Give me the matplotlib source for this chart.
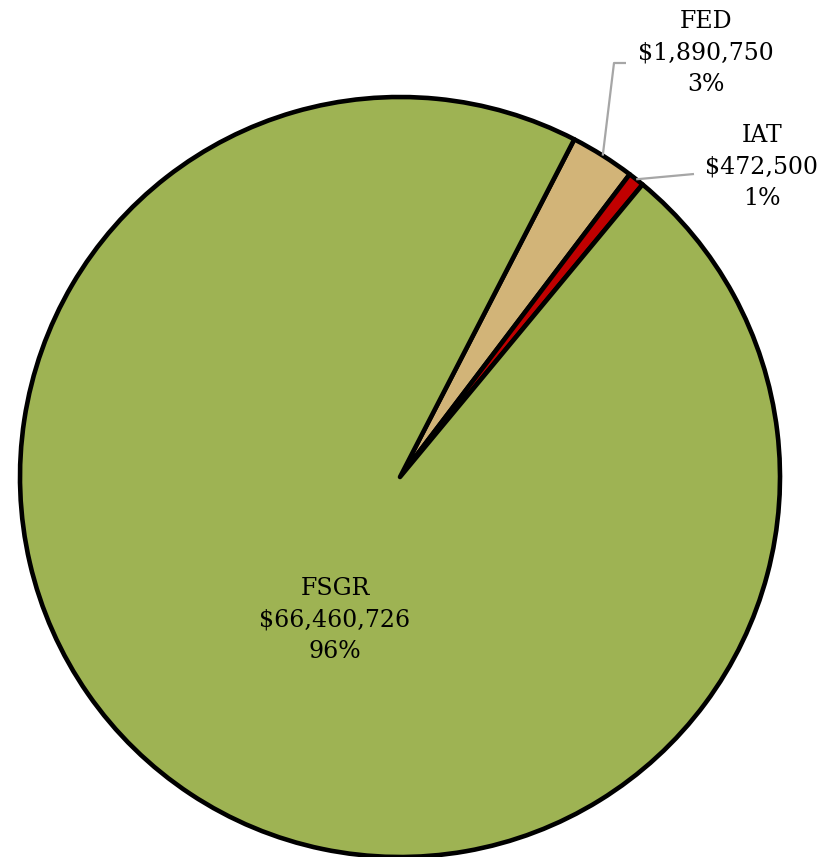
import numpy as np
import matplotlib.pyplot as plt

# funding sources, in the order the slices are drawn (clockwise)
labels = ['FED', 'IAT', 'FSGR']
values = [1890750, 472500, 66460726]
percents = [3, 1, 96]   # as printed on the chart
colors = ['#D2B478', '#C00000', '#9EB353']

fig = plt.figure(figsize=(8.37, 8.57), dpi=100)
ax = fig.add_axes([0, 0, 1, 1])

cx, cy, r = 400, 380, 380
wedges, _ = ax.pie(values, colors=colors, startangle=62.7, counterclock=False,
                   center=(cx, cy), radius=r, frame=True,
                   wedgeprops=dict(edgecolor='black', linewidth=3.3, joinstyle='round'))
ax.set_xlim(0, 837)
ax.set_ylim(0, 857)
ax.set_aspect('equal')
ax.axis('off')

font = dict(family=['DejaVu Serif'], fontsize=17, color='black',
            ha='center', va='center', linespacing=1.45)

def label_text(i):
    return '%s\n$%s\n%d%%' % (labels[i], format(values[i], ','), percents[i])

# FSGR label sits inside the slice
ax.text(335, 237, label_text(2), **font)

# FED label with elbow leader line
w = wedges[0]
a = np.deg2rad((w.theta1 + w.theta2) / 2)
ex, ey = cx + r * np.cos(a), cy + r * np.sin(a)
ax.plot([ex, 614, 626], [ey, 794, 794], color='#A6A6A6', lw=1.6, solid_capstyle='butt')
ax.text(706, 804, label_text(0), **font)

# IAT label
w = wedges[1]
a = np.deg2rad((w.theta1 + w.theta2) / 2)
ex, ey = cx + r * np.cos(a), cy + r * np.sin(a)
ax.plot([ex, 694], [ey, 683], color='#A6A6A6', lw=1.6, solid_capstyle='butt')
ax.text(762, 690, label_text(1), **font)

fig.savefig('out.png', dpi=100)
